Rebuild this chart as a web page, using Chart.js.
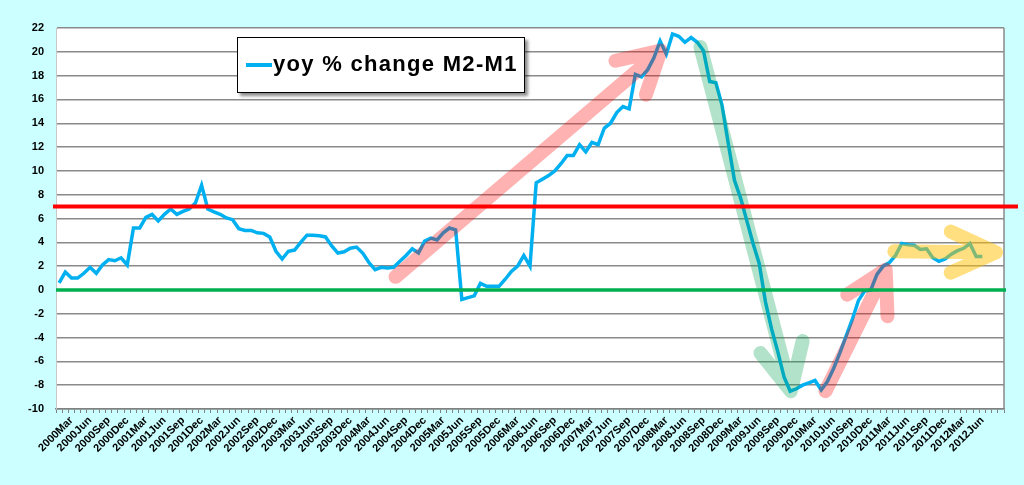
<!DOCTYPE html>
<html>
<head>
<meta charset="utf-8">
<title>yoy % change M2-M1</title>
<script src="https://cdn.jsdelivr.net/npm/chart.js@4.4.1/dist/chart.umd.min.js"></script>
<style>
  html, body { margin: 0; padding: 0; background: #ccffff; }
  #wrap { position: relative; width: 1024px; height: 485px; }
  #legendBox {
    position: absolute; left: 237px; top: 37px; width: 286px; height: 54px;
    background: #fff; border: 1px solid #000;
    box-shadow: 3px 3px 3px rgba(0,0,0,0.45);
    font: bold 22px Arial, "Liberation Sans", sans-serif; color: #000;
  }
  #legendBox .swatch { position: absolute; left: 8px; top: 25px; width: 26px; height: 4px; background: #00b0f0; }
  #legendBox .txt { position: absolute; left: 35px; top: 15px; line-height: 22px; white-space: nowrap; letter-spacing: 1.3px; }
</style>
</head>
<body>
<div id="wrap">
  <canvas id="m2m1Chart" width="1024" height="485"></canvas>
  <div id="legendBox"><span class="swatch"></span><span class="txt">yoy % change M2-M1</span></div>
</div>
<script>
// Luni, ian 2000 - sep 2012 (ultimele luni fara date)
const monthNames = ['Jan', 'Feb', 'Mar', 'Apr', 'May', 'Jun', 'Jul', 'Aug', 'Sep', 'Oct', 'Nov', 'Dec'];
const categories = [];
for (let y = 2000; y <= 2012; y++) {
    monthNames.forEach(m => categories.push(y + m));
}
categories.length = 153;

// Etichetele afisate pe axa x (din 3 in 3 luni)
const tickLabels = [
    '2000Mar', '2000Jun', '2000Sep', '2000Dec', '2001Mar', '2001Jun', '2001Sep', '2001Dec',
    '2002Mar', '2002Jun', '2002Sep', '2002Dec', '2003Mar', '2003Jun', '2003Sep', '2003Dec',
    '2004Mar', '2004Jun', '2004Sep', '2004Dec', '2005Mar', '2005Jun', '2005Sep', '2005Dec',
    '2006Mar', '2006Jun', '2006Sep', '2006Dec', '2007Mar', '2007Jun', '2007Sep', '2007Dec',
    '2008Mar', '2008Jun', '2008Sep', '2008Dec', '2009Mar', '2009Jun', '2009Sep', '2009Dec',
    '2010Mar', '2010Jun', '2010Sep', '2010Dec', '2011Mar', '2011Jun', '2011Sep', '2011Dec',
    '2012Mar', '2012Jun'
];

// yoy % change M2-M1, lunar
const m2m1Yoy = [
    0.6, 1.5, 1.0, 1.0, 1.4, 1.9, 1.4, 2.1, 2.55, 2.45, 2.7, 2.1,
    5.2, 5.2, 6.1, 6.35, 5.8, 6.35, 6.8, 6.35, 6.6, 6.8, 7.3, 8.8,
    6.8, 6.55, 6.35, 6.05, 5.9, 5.15, 5.0, 5.0, 4.8, 4.75, 4.45, 3.25,
    2.6, 3.25, 3.35, 4.0, 4.6, 4.6, 4.55, 4.45, 3.7, 3.1, 3.2, 3.5,
    3.6, 3.1, 2.3, 1.7, 1.9, 1.85, 1.9, 2.4, 2.9, 3.45, 3.1, 4.1,
    4.35, 4.2, 4.8, 5.2, 5.05, -0.8, -0.65, -0.5, 0.55, 0.3, 0.3, 0.3,
    0.9, 1.55, 2.0, 2.9, 2.0, 9.0, 9.3, 9.6, 10.0, 10.6, 11.3, 11.3,
    12.2, 11.6, 12.4, 12.2, 13.6, 14.0, 14.9, 15.4, 15.2, 18.1, 17.9, 18.5,
    19.5, 20.9, 19.8, 21.5, 21.3, 20.8, 21.2, 20.8, 20.1, 17.5, 17.4, 15.5,
    12.3, 9.2, 7.7, 5.8, 3.9, 2.2, -1.0, -3.3, -5.2, -7.3, -8.5, -8.3,
    -8.0, -7.8, -7.6, -8.4, -7.7, -6.6, -5.3, -3.9, -2.5, -0.9, -0.1, 0.0,
    1.3, 2.0, 2.3, 2.9, 3.9, 3.8, 3.75, 3.4, 3.45, 2.7, 2.4, 2.6,
    3.0, 3.3, 3.5, 3.9, 2.8, 2.8
];

// Liniile orizontale de referinta (7% si 0%)
const refLevels = [7, 0];
const refColors = ['#ff0000', '#00b050'];

// Sagetile desenate peste grafic: [indice luna, valoare]
const arrowShafts = [
    [[54.3, 1.1], [97.1, 20.1]],
    [[103.5, 20.4], [118.1, -8.5]],
    [[123.7, -8.5], [133.4, 1.7]],
    [[134.8, 3.25], [151.2, 3.15]]
];
const arrowHeads = [
    [[89.8, 19.25], [97.1, 20.1], [94.7, 16.4]],
    [[113.2, -5.3], [118.1, -8.5], [120.0, -4.3]],
    [[127.2, -0.4], [133.4, 1.7], [133.7, -2.2]],
    [[143.9, 4.9], [151.2, 3.15], [143.9, 1.45]]
];
const arrowColors = ['rgba(255,0,0,0.3)', 'rgba(0,160,80,0.3)', 'rgba(255,0,0,0.3)', 'rgba(255,192,0,0.5)'];

const fontFamily = 'Arial, "Liberation Sans", sans-serif';

const plotFrame = {
    id: 'plotFrame',
    beforeDraw(chart) {
        const { ctx, chartArea: a } = chart;
        ctx.save();
        ctx.fillStyle = '#ccffff';
        ctx.fillRect(0, 0, chart.width, chart.height);
        ctx.fillStyle = '#ffffff';
        ctx.fillRect(a.left, a.top, a.right - a.left, a.bottom - a.top);
        ctx.restore();
    },
    beforeDatasetsDraw(chart) {
        const { ctx, chartArea: a } = chart;
        ctx.save();
        ctx.strokeStyle = '#8a8a8a';
        ctx.lineWidth = 1.5;
        ctx.beginPath();
        ctx.moveTo(a.right, a.top);
        ctx.lineTo(a.right, a.bottom);
        ctx.stroke();
        ctx.restore();
    },
    afterDatasetsDraw(chart) {
        const { ctx, chartArea: a, scales: { x, y } } = chart;
        ctx.save();
        // sagetile
        ctx.lineCap = 'round';
        ctx.lineJoin = 'round';
        ctx.lineWidth = 14;
        arrowShafts.forEach((shaft, k) => {
            ctx.strokeStyle = arrowColors[k];
            ctx.beginPath();
            ctx.moveTo(x.getPixelForValue(shaft[0][0]), y.getPixelForValue(shaft[0][1]));
            ctx.lineTo(x.getPixelForValue(shaft[1][0]), y.getPixelForValue(shaft[1][1]));
            const head = arrowHeads[k];
            ctx.moveTo(x.getPixelForValue(head[0][0]), y.getPixelForValue(head[0][1]));
            ctx.lineTo(x.getPixelForValue(head[1][0]), y.getPixelForValue(head[1][1]));
            ctx.lineTo(x.getPixelForValue(head[2][0]), y.getPixelForValue(head[2][1]));
            ctx.stroke();
        });
        // liniile de referinta
        ctx.lineCap = 'butt';
        refLevels.forEach((lvl, k) => {
            const py = y.getPixelForValue(lvl);
            ctx.strokeStyle = refColors[k];
            ctx.lineWidth = k === 0 ? 4 : 3.5;
            ctx.beginPath();
            ctx.moveTo(a.left - (k === 0 ? 3 : 0), py);
            ctx.lineTo(a.right + (k === 0 ? 14 : 2), py);
            ctx.stroke();
        });
        ctx.restore();
    }
};

const ctxM2 = document.getElementById('m2m1Chart').getContext('2d');
new Chart(ctxM2, {
    type: 'line',
    data: {
        labels: categories,
        datasets: [{
            label: 'yoy % change M2-M1',
            data: m2m1Yoy,
            borderColor: '#00b0f0',
            borderWidth: 3.5,
            pointRadius: 0,
            tension: 0,
            fill: false
        }]
    },
    options: {
        responsive: false,
        animation: false,
        layout: { padding: { left: 0, right: 20, top: 28, bottom: 0 } },
        plugins: { legend: { display: false }, tooltip: { enabled: false } },
        scales: {
            x: {
                offset: true,
                afterFit: s => { s.height = 76; },
                grid: { drawOnChartArea: false, drawTicks: true, tickLength: 4, color: '#808080', offset: true },
                border: { color: '#808080', width: 1.5 },
                ticks: {
                    autoSkip: false,
                    maxRotation: 45,
                    minRotation: 45,
                    padding: 1,
                    color: '#000',
                    font: { family: fontFamily, size: 11, weight: 'bold' },
                    callback: (val, idx) => tickLabels.includes(categories[idx]) ? categories[idx] : ''
                }
            },
            y: {
                min: -10,
                max: 22,
                afterFit: s => { s.width = 56; },
                grid: { drawTicks: false, color: '#8a8a8a', lineWidth: 1.5 },
                border: { color: '#c8c8c8', width: 1 },
                ticks: {
                    stepSize: 2,
                    padding: 12,
                    color: '#000',
                    font: { family: fontFamily, size: 11, weight: 'bold' }
                }
            }
        }
    },
    plugins: [plotFrame]
});
</script>
</body>
</html>
